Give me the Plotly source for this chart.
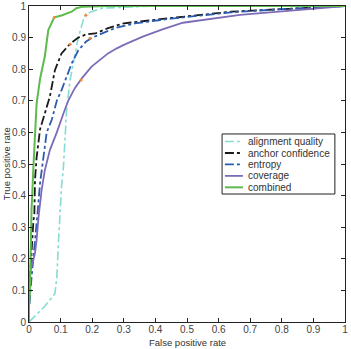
import plotly.graph_objects as go

# ---- data ----
alignment_fpr = [0, 0.008, 0.05, 0.082, 0.088, 0.093, 0.098, 0.103, 0.109, 0.114, 0.119, 0.124, 0.13, 0.14, 0.156, 0.172, 0.18, 0.23, 0.4, 0.7, 1.0]
alignment_tpr = [0, 0.008, 0.05, 0.09, 0.14, 0.25, 0.34, 0.43, 0.49, 0.60, 0.67, 0.713, 0.766, 0.818, 0.90, 0.956, 0.975, 0.993, 1.0, 1.0, 1.0]

anchor_fpr = [0, 0, 0.003, 0.008, 0.014, 0.017, 0.019, 0.024, 0.035, 0.056, 0.066, 0.082, 0.103, 0.13, 0.156, 0.18, 0.21, 0.25, 0.30, 0.45, 0.64, 0.8, 1.0]
anchor_tpr = [0, 0.04, 0.14, 0.23, 0.32, 0.344, 0.45, 0.52, 0.61, 0.68, 0.713, 0.797, 0.85, 0.88, 0.90, 0.91, 0.913, 0.93, 0.945, 0.962, 0.982, 0.99, 1.0]

entropy_fpr = [0, 0, 0.008, 0.019, 0.024, 0.027, 0.035, 0.045, 0.056, 0.072, 0.088, 0.103, 0.119, 0.135, 0.156, 0.18, 0.20, 0.23, 0.272, 0.335, 0.45, 0.64, 0.8, 1.0]
entropy_tpr = [0, 0.04, 0.14, 0.25, 0.32, 0.344, 0.44, 0.51, 0.60, 0.64, 0.70, 0.734, 0.776, 0.818, 0.86, 0.887, 0.90, 0.913, 0.93, 0.945, 0.96, 0.98, 0.99, 1.0]

coverage_fpr = [0, 0, 0.003, 0.019, 0.024, 0.03, 0.04, 0.05, 0.066, 0.088, 0.109, 0.124, 0.145, 0.167, 0.198, 0.225, 0.25, 0.278, 0.30, 0.36, 0.42, 0.487, 0.56, 0.668, 0.8, 0.9, 1.0]
coverage_tpr = [0, 0.04, 0.155, 0.218, 0.26, 0.33, 0.418, 0.48, 0.544, 0.60, 0.66, 0.70, 0.74, 0.771, 0.808, 0.829, 0.85, 0.866, 0.877, 0.903, 0.925, 0.947, 0.958, 0.972, 0.983, 0.992, 1.0]

combined_fpr = [0, 0, 0.003, 0.005, 0.008, 0.014, 0.024, 0.035, 0.05, 0.061, 0.08, 0.103, 0.135, 0.15, 0.17, 0.25, 0.5, 1.0]
combined_tpr = [0, 0.05, 0.10, 0.25, 0.354, 0.49, 0.69, 0.77, 0.84, 0.924, 0.964, 0.97, 0.982, 0.993, 0.998, 1.0, 1.0, 1.0]

point_fpr = [0.08, 0.18, 0.13, 0.193, 0.165]
point_tpr = [0.964, 0.971, 0.879, 0.898, 0.766]

tick_vals = [0, 0.1, 0.2, 0.3, 0.4, 0.5, 0.6, 0.7, 0.8, 0.9, 1]
tick_text = ["0", "0.1", "0.2", "0.3", "0.4", "0.5", "0.6", "0.7", "0.8", "0.9", "1"]

series_names = ["alignment quality", "anchor confidence", "entropy", "coverage", "combined"]
series_x = [alignment_fpr, anchor_fpr, entropy_fpr, coverage_fpr, combined_fpr]
series_y = [alignment_tpr, anchor_tpr, entropy_tpr, coverage_tpr, combined_tpr]
series_colors = ["#86dcd2", "#1a1a1a", "#2a5cb0", "#7e6bb8", "#5dbb4c"]
series_dash = ["dashdot", "dashdot", "dashdot", "solid", "solid"]
series_width = [1.6, 1.8, 1.8, 1.8, 2.0]

FONT = "Liberation Sans, Arial, sans-serif"

fig = go.Figure()
for name, xs, ys, color, dash, w in zip(series_names, series_x, series_y,
                                        series_colors, series_dash, series_width):
    fig.add_trace(go.Scatter(x=xs, y=ys, mode="lines", name=name, showlegend=False,
                             line=dict(color=color, dash=dash, width=w)))
fig.add_trace(go.Scatter(x=point_fpr, y=point_tpr, mode="markers", showlegend=False,
                         marker=dict(color="#f08a3c", size=3)))

# ---- compact legend box (paper coordinates) ----
leg_x0, leg_x1 = 0.611, 0.968
leg_top, leg_bottom = 0.595, 0.405
item_step = 0.0362
first_item = leg_top - 0.024
fig.add_shape(type="rect", xref="paper", yref="paper", x0=leg_x0, x1=leg_x1,
              y0=leg_bottom, y1=leg_top, line=dict(color="#222", width=1),
              fillcolor="white", layer="above")
for i, (name, color, dash, w) in enumerate(zip(series_names, series_colors,
                                               series_dash, series_width)):
    yy = first_item - i * item_step
    fig.add_shape(type="line", xref="paper", yref="paper", x0=0.620, x1=0.677,
                  y0=yy, y1=yy, line=dict(color=color, dash=dash, width=w), layer="above")
    fig.add_annotation(xref="paper", yref="paper", x=0.686, y=yy, text=name,
                       showarrow=False, xanchor="left", yanchor="middle",
                       font=dict(family=FONT, size=10, color="#333"))

axis_common = dict(
    range=[0, 1], tickvals=tick_vals, ticktext=tick_text, automargin=False,
    showgrid=False, zeroline=False, showline=True, linecolor="#222", linewidth=1,
    mirror="ticks", ticks="inside", ticklen=4, tickcolor="#222",
    tickfont=dict(family=FONT, size=10, color="#444"),
)

fig.add_annotation(xref="paper", yref="paper", x=0.5, y=-0.0854, text="False positive rate",
                   showarrow=False, xanchor="center", yanchor="bottom", borderpad=0,
                   font=dict(family=FONT, size=9.5, color="#333"))
fig.add_annotation(xref="paper", yref="paper", x=-0.072, y=0.5, text="True positive rate",
                   showarrow=False, xanchor="center", yanchor="middle", textangle=-90,
                   font=dict(family=FONT, size=9.5, color="#333"))

fig.update_layout(
    width=351, height=349,
    margin=dict(l=29, r=6, t=6, b=27),
    paper_bgcolor="white", plot_bgcolor="white",
    showlegend=False,
    xaxis=dict(**axis_common, ticklabelstandoff=-2),
    yaxis=dict(**axis_common),
)

fig.write_html("out.html")
